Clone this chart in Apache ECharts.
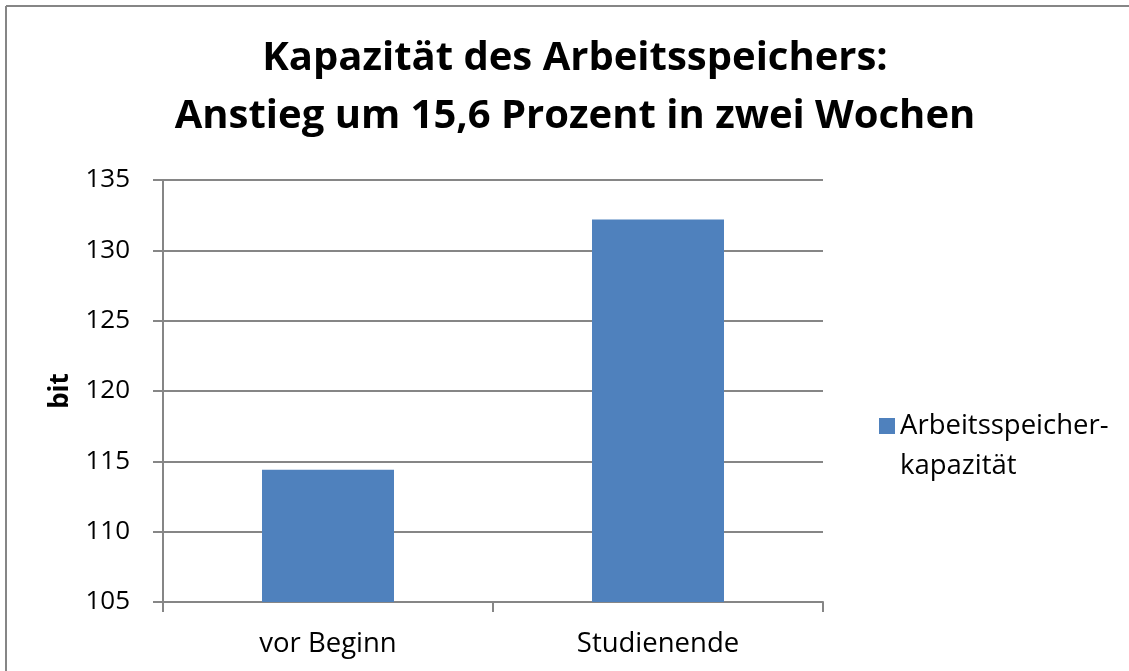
<!DOCTYPE html>
<html>
<head>
<meta charset="utf-8">
<script src="https://cdn.jsdelivr.net/npm/echarts@6/dist/echarts.min.js"></script>
<style>html,body{margin:0;padding:0;background:#fff}#c{width:1129px;height:671px}</style>
</head>
<body>
<div id="c"></div>
<script>
const titleLines = ["Kapazität des Arbeitsspeichers:", "Anstieg um 15,6 Prozent in zwei Wochen"];
const categories = ["vor Beginn", "Studienende"];
const seriesName = "Arbeitsspeicher-\nkapazität";
const values = [114.4, 132.2];
const yName = "bit";
const yMin = 105, yMax = 135, yStep = 5;

const FONT = "'Open Sans', Lato, sans-serif";
const chart = echarts.init(document.getElementById('c'));
chart.setOption({
  backgroundColor: '#fff',
  animation: false,
  title: {
    text: titleLines.join('\n'),
    left: 570, top: 25, textAlign: 'center',
    textStyle: { fontFamily: FONT, fontWeight: 'bold', fontSize: 40, lineHeight: 58, color: '#000' }
  },
  legend: {
    left: 879, top: 366, orient: 'vertical', padding: 0,
    itemWidth: 16, itemHeight: 16,
    icon: 'rect',
    formatter: n => '\n' + n,
    textStyle: { fontFamily: FONT, fontSize: 27.5, lineHeight: 40, color: '#000' },
    data: [seriesName]
  },
  grid: { left: 163, right: 1129 - 823, top: 180, bottom: 671 - 602, containLabel: false },
  xAxis: {
    type: 'category', data: categories,
    axisLine: { lineStyle: { color: '#868686', width: 2 } },
    axisTick: { show: true, length: 10, lineStyle: { color: '#868686', width: 2 } },
    axisLabel: { fontFamily: FONT, fontSize: 27.5, color: '#000', margin: 28 }
  },
  yAxis: {
    type: 'value', min: yMin, max: yMax, interval: yStep,
    name: yName, nameLocation: 'middle', nameGap: 89, nameRotate: 90,
    nameTextStyle: { fontFamily: FONT, fontSize: 26, fontWeight: 'bold', color: '#000' },
    axisLine: { show: true, lineStyle: { color: '#868686', width: 2 } },
    axisTick: { show: true, inside: false, length: 10, lineStyle: { color: '#868686', width: 2 } },
    splitLine: { lineStyle: { color: '#868686', width: 2 } },
    axisLabel: { fontFamily: FONT, fontSize: 26, color: '#000', margin: 33 }
  },
  series: [{
    name: seriesName, type: 'bar', data: values,
    barCategoryGap: '60%',
    itemStyle: { color: '#4F81BD' }
  }],
  graphic: [
    { type: 'line', shape: { x1: 6, y1: 6, x2: 1129, y2: 6 }, style: { stroke: '#868686', lineWidth: 2 } },
    { type: 'line', shape: { x1: 6, y1: 6, x2: 6, y2: 671 }, style: { stroke: '#868686', lineWidth: 2 } }
  ]
});
</script>
</body>
</html>
